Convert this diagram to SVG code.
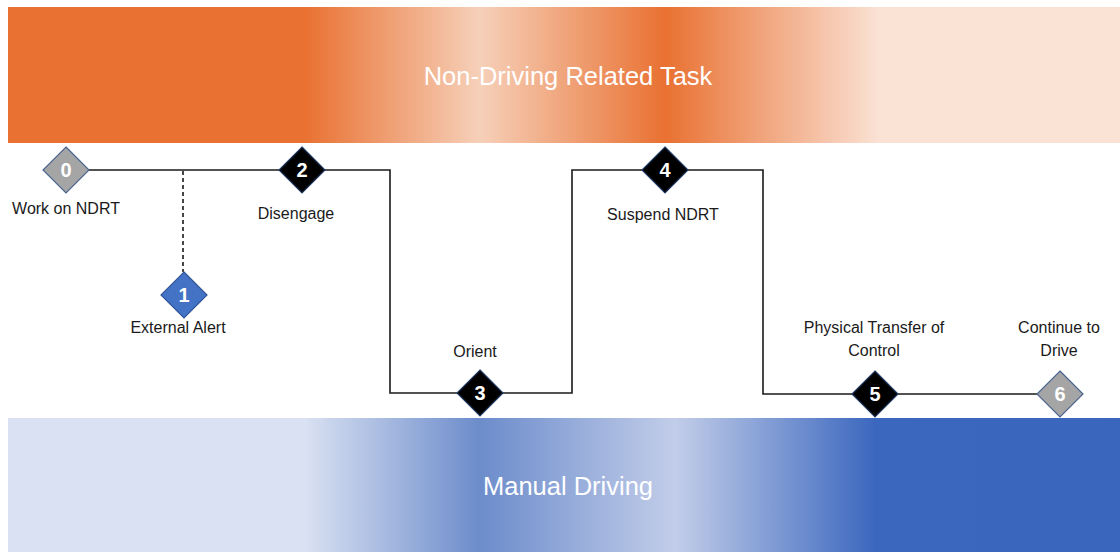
<svg xmlns="http://www.w3.org/2000/svg" width="1120" height="552" viewBox="0 0 1120 552">
  <defs>
    <linearGradient id="ndrtGrad" gradientUnits="userSpaceOnUse" x1="8" y1="0" x2="1120" y2="0">
      <stop offset="0" stop-color="#E97132"/>
      <stop offset="0.267" stop-color="#E97132"/>
      <stop offset="0.424" stop-color="#F6D0B9"/>
      <stop offset="0.591" stop-color="#E97132"/>
      <stop offset="0.784" stop-color="#FAE2D5"/>
      <stop offset="1" stop-color="#FAE2D5"/>
    </linearGradient>
    <linearGradient id="driveGrad" gradientUnits="userSpaceOnUse" x1="8" y1="0" x2="1120" y2="0">
      <stop offset="0" stop-color="#D9E1F2"/>
      <stop offset="0.267" stop-color="#D9E1F2"/>
      <stop offset="0.424" stop-color="#6C8CCB"/>
      <stop offset="0.600" stop-color="#C2CDE9"/>
      <stop offset="0.780" stop-color="#3B67BE"/>
      <stop offset="1" stop-color="#3A67BD"/>
    </linearGradient>
  </defs>
  <style>
    .band-label { font-family: "Liberation Sans", Arial, sans-serif; font-size: 25.5px; fill: #FFFFFF; text-anchor: middle; }
    .label { font-family: "Liberation Sans", Arial, sans-serif; font-size: 16px; fill: #1a1a1a; text-anchor: middle; }
    .num { font-family: "Liberation Sans", Arial, sans-serif; font-size: 20px; font-weight: bold; fill: #FFFFFF; text-anchor: middle; }
    .path { fill: none; stroke: #1a1a1a; stroke-width: 1.6; }
    .dash { fill: none; stroke: #1a1a1a; stroke-width: 1.6; stroke-dasharray: 4 3; }
    .d-gray { fill: #A5A5A5; stroke: #4A6491; stroke-width: 1.2; }
    .d-blue { fill: #4472C4; stroke: #2F5597; stroke-width: 1.2; }
    .d-black { fill: #000000; stroke: #1F3864; stroke-width: 1.2; }
  </style>

  <!-- Lanes -->
  <g id="lane-ndrt">
    <rect x="8" y="7" width="1112" height="136" fill="url(#ndrtGrad)"/>
    <text class="band-label" x="568" y="85">Non-Driving Related Task</text>
  </g>
  <g id="lane-manual">
    <rect x="8" y="418" width="1112" height="134" fill="url(#driveGrad)"/>
    <text class="band-label" x="568" y="495">Manual Driving</text>
  </g>

  <!-- Connectors -->
  <g id="connectors">
    <polyline class="path" points="66,170 390,170 390,393 572,393 572,170 763,170 763,394 1060,394"/>
    <line class="dash" x1="183" y1="171" x2="183" y2="272"/>
  </g>

  <!-- Steps -->
  <g id="step-0">
    <polygon class="d-gray" points="66,147 89,170 66,193 43,170"/>
    <text class="num" x="66" y="177">0</text>
    <text class="label" x="66" y="214">Work on NDRT</text>
  </g>
  <g id="step-1">
    <polygon class="d-blue" points="184,272 207,295 184,318 161,295"/>
    <text class="num" x="184" y="302">1</text>
    <text class="label" x="178" y="333">External Alert</text>
  </g>
  <g id="step-2">
    <polygon class="d-black" points="302,147 325,170 302,193 279,170"/>
    <text class="num" x="302" y="177">2</text>
    <text class="label" x="296" y="219">Disengage</text>
  </g>
  <g id="step-3">
    <polygon class="d-black" points="480,370 503,393 480,416 457,393"/>
    <text class="num" x="480" y="400">3</text>
    <text class="label" x="475" y="357">Orient</text>
  </g>
  <g id="step-4">
    <polygon class="d-black" points="665,147 688,170 665,193 642,170"/>
    <text class="num" x="665" y="177">4</text>
    <text class="label" x="663" y="220">Suspend NDRT</text>
  </g>
  <g id="step-5">
    <polygon class="d-black" points="875,371 898,394 875,417 852,394"/>
    <text class="num" x="875" y="401">5</text>
    <text class="label" x="874" y="333">Physical Transfer of</text>
    <text class="label" x="874" y="356">Control</text>
  </g>
  <g id="step-6">
    <polygon class="d-gray" points="1060,371 1083,394 1060,417 1037,394"/>
    <text class="num" x="1060" y="401">6</text>
    <text class="label" x="1059" y="333">Continue to</text>
    <text class="label" x="1059" y="356">Drive</text>
  </g>
</svg>
